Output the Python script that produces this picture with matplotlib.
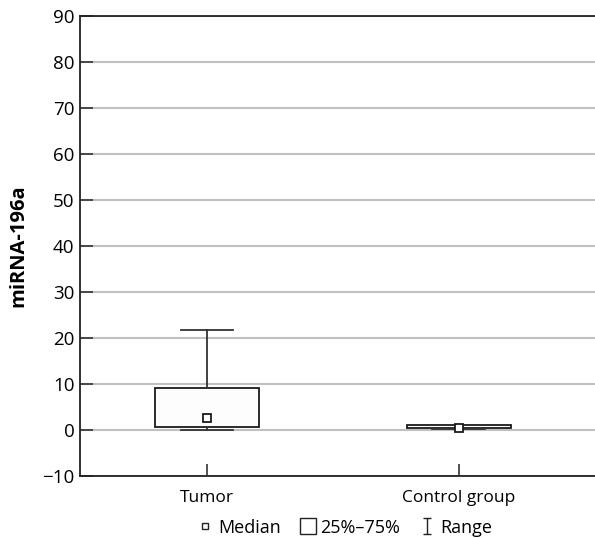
import numpy as np
import matplotlib.pyplot as plt
from matplotlib.path import Path
from matplotlib.lines import Line2D

plt.rcParams['font.family'] = ['Open Sans', 'DejaVu Sans']

groups = ["Tumor", "Control group"]
median = [2.6, 0.5]
q1 = [0.65, 0.35]
q3 = [9.1, 1.2]
range_lo = [0.0, 0.3]
range_hi = [21.7, 1.2]
yticks = np.arange(-10, 91, 10)

stats = []
for g, m, a, b, lo, hi in zip(groups, median, q1, q3, range_lo, range_hi):
    stats.append({'label': g, 'med': m, 'q1': a, 'q3': b,
                  'whislo': lo, 'whishi': hi, 'fliers': []})

fig = plt.figure(figsize=(5.95, 5.38), dpi=100)
ax = fig.add_axes([0.1345, 0.1152, 0.8655, 0.855])

pos = [1, 2]
ax.bxp(stats, positions=pos, widths=0.41, patch_artist=True,
       showfliers=False,
       boxprops=dict(facecolor='#fdfdfd', edgecolor='#1a1a1a', lw=1.3),
       whiskerprops=dict(color='#333333', lw=1.3),
       capprops=dict(color='#333333', lw=1.3),
       capwidths=0.21,
       medianprops=dict(visible=False), zorder=3)
ax.plot(pos, median, ls='none', marker='s', ms=6, mfc='white',
        mec='#1a1a1a', mew=1.3, zorder=4)

ax.set_xlim(0.496, 2.54)
ax.set_ylim(-10, 90)
ax.set_yticks(yticks)
ax.set_yticklabels([str(v).replace('-', '\u2212') for v in yticks], fontsize=13.5)
ax.set_xticks(pos)
ax.set_xticklabels(groups, fontsize=12.5)
ax.tick_params(axis='y', direction='in', length=9, width=1.2, color='#333333', pad=4)
ax.tick_params(axis='x', direction='in', length=9, width=1.2, color='#333333', pad=10)
ax.yaxis.grid(True, color='#c0c0c0', lw=1.5, zorder=0)
ax.set_axisbelow(True)
ax.set_ylabel('miRNA-196a', fontsize=14.5, fontweight='bold', labelpad=10)

ax.spines['right'].set_visible(False)
for s in ['left', 'top', 'bottom']:
    ax.spines[s].set_color('#222222')
    ax.spines[s].set_linewidth(1.3)

ibeam = Path([(-0.5, 1), (0.5, 1), (0, 1), (0, -1), (-0.5, -1), (0.5, -1)],
             [Path.MOVETO, Path.LINETO, Path.MOVETO, Path.LINETO, Path.MOVETO, Path.LINETO])
handles = [
    Line2D([], [], ls='none', marker='s', ms=5, mfc='white', mec='#222222', mew=1.0, label='Median'),
    Line2D([], [], ls='none', marker='s', ms=11, mfc='white', mec='#222222', mew=1.0, label='25%\u201375%'),
    Line2D([], [], ls='none', marker=ibeam, ms=11, mec='#222222', mew=1.0, label='Range'),
]
fig.legend(handles=handles, loc='lower center', bbox_to_anchor=(0.58, -0.028),
           ncol=3, frameon=False, fontsize=13, handlelength=0.8, handletextpad=0.3,
           columnspacing=1.1)

fig.savefig('out.png', dpi=100)
